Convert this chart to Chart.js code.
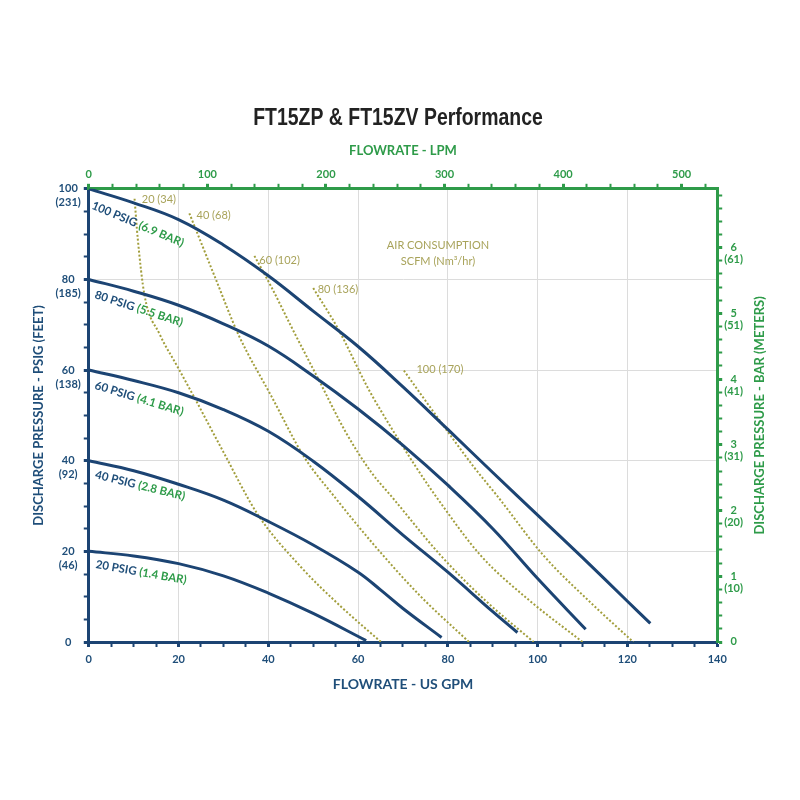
<!DOCTYPE html>
<html lang="en">

<head>
  <meta charset="UTF-8" />
  <title>FT15ZP & FT15ZV Performance</title>
  <script src="https://cdn.jsdelivr.net/npm/chart.js"></script>
  <style>
    body { margin: 0; background: #fff; }
  </style>
</head>

<body>
  <canvas id="myChart" width="800" height="800"></canvas>

  <script>
    // pump curves, [US GPM, PSIG]
    const psig100 = [[0, 100], [10, 96.9], [20, 93.2], [30, 87.6], [40, 80.8], [50, 73], [60, 65.2], [70, 56.3], [80, 46.9], [90, 37.4], [100, 28], [110, 18.6], [120, 9], [125.1, 4.1]];
    const psig80 = [[0, 80], [10, 77.4], [20, 74.3], [30, 70.2], [40, 65.3], [50, 58.7], [60, 51.4], [70, 43.4], [80, 34.6], [90, 25], [100, 14], [110.7, 2.8]];
    const psig60 = [[0, 60], [10, 57.7], [20, 55], [30, 51.3], [40, 46.5], [50, 39.9], [60, 32.1], [70, 23.6], [80, 15.4], [90, 6.7], [95.5, 2.1]];
    const psig40 = [[0, 40], [10, 37.8], [20, 34.8], [30, 31.3], [40, 26.6], [50, 21.4], [60, 15.4], [65, 11.5], [70, 7.4], [78.6, 1]];
    const psig20 = [[0, 20], [10, 19], [20, 17.3], [30, 14.6], [40, 10.8], [50, 6.3], [61.8, 0.3]];

    // air consumption lines, [US GPM, PSIG]
    const air20 = [[10.2, 97.8], [10.9, 89.1], [12.4, 76.6], [15.8, 67.9], [19.8, 60.7], [23.6, 53.8], [30, 41.9], [37.6, 28.2], [47.3, 16.5], [56.2, 7.8], [65.1, 0]];
    const air40 = [[22.4, 94.6], [28.4, 79.8], [33.3, 67.9], [40.7, 54.2], [48, 40.8], [54.7, 32.1], [63.3, 21.7], [73.6, 10.4], [84.7, 0]];
    const air60 = [[36.9, 85.2], [40.7, 78.3], [45.1, 69.6], [51.1, 58.1], [57.3, 46.2], [62.9, 37.5], [67.8, 31.7], [78.4, 19.1], [88.4, 9.1], [99.1, 0]];
    const air80 = [[50, 78.1], [55.6, 69], [62.2, 56], [65.1, 51], [72.9, 38.6], [77.8, 31.5], [87.3, 19.1], [98, 9.3], [110, 0]];
    const air100 = [[70.2, 59.9], [76.2, 51.6], [85.8, 38.6], [91.1, 32.1], [101.3, 19.1], [111.8, 8.7], [121.3, 0]];

    const psigNames = ["100 PSIG", "80 PSIG", "60 PSIG", "40 PSIG", "20 PSIG"];
    const barNames = ["(6.9 BAR)", "(5.5 BAR)", "(4.1 BAR)", "(2.8 BAR)", "(1.4 BAR)"];
    const airNames = ["20 (34)", "40 (68)", "60 (102)", "80 (136)", "100 (170)"];

    // tick labels
    const feetTicks = ["", "(46)", "(92)", "(138)", "(185)", "(231)"];
    const meterTicks = ["", "(10)", "(20)", "(31)", "(41)", "(51)", "(61)"];

    const NAVY = "#1c4473";
    const NAVY_TXT = "#1f4e79";
    const GREEN = "#2e9b49";
    const OLIVE = "#a29e3c";
    const OLIVE_TXT = "#a8a35a";
    const GPM_TO_LPM = 3.78541;
    const PSI_PER_BAR = 14.5038;

    // where the text sits, in chart units
    const psigLabelAt = [[1.3, 97.6], [1.8, 77.9], [1.8, 57.9], [1.8, 38.2], [1.8, 18.4]];
    const psigLabelTilt = [23, 18, 17, 14, 10];
    const airLabelAt = [[11.8, 97.6], [24, 94.2], [38, 84.1], [51, 77.7], [73, 60.2]];

    function toXY(arr) {
      return arr.map((p) => ({ x: p[0], y: p[1] }));
    }

    function solid(arr) {
      return {
        data: toXY(arr),
        borderColor: NAVY,
        borderWidth: 3,
        pointRadius: 0,
        tension: 0.4,
      };
    }

    function dotted(arr) {
      return {
        data: toXY(arr),
        borderColor: OLIVE,
        borderWidth: 2,
        borderDash: [2, 2],
        pointRadius: 0,
        cubicInterpolationMode: "monotone",
      };
    }

    const isStep = (v, s) => Math.abs(v / s - Math.round(v / s)) < 1e-6;

    // text on the plot, chart title, right axis title
    const notesPlugin = {
      id: "notes",
      afterDatasetsDraw(chart) {
        const c = chart.ctx;
        const xs = chart.scales.x;
        const ys = chart.scales.y;
        c.save();
        c.font = "bold 11.5px Lato";
        c.textBaseline = "top";
        c.textAlign = "left";
        for (let i = 0; i < psigNames.length; i++) {
          c.save();
          c.translate(xs.getPixelForValue(psigLabelAt[i][0]), ys.getPixelForValue(psigLabelAt[i][1]));
          c.rotate((psigLabelTilt[i] * Math.PI) / 180);
          c.fillStyle = NAVY_TXT;
          c.fillText(psigNames[i], 0, 0);
          const w = c.measureText(psigNames[i] + " ").width;
          c.fillStyle = GREEN;
          c.fillText(barNames[i], w, 0);
          c.restore();
        }

        c.font = "11px Lato";
        c.fillStyle = OLIVE_TXT;
        c.textBaseline = "middle";
        for (let i = 0; i < airNames.length; i++) {
          c.fillText(airNames[i], xs.getPixelForValue(airLabelAt[i][0]), ys.getPixelForValue(airLabelAt[i][1]));
        }
        c.textAlign = "center";
        c.fillText("AIR CONSUMPTION", xs.getPixelForValue(77.8), ys.getPixelForValue(87.6));
        c.fillText("SCFM (Nm\u00B3/hr)", xs.getPixelForValue(77.8), ys.getPixelForValue(83.9));
        c.restore();
      },
      afterDraw(chart) {
        const c = chart.ctx;
        const area = chart.chartArea;
        c.save();
        // narrow bold title
        c.translate(398, 118);
        c.scale(0.81, 1);
        c.font = "bold 24px 'Liberation Sans', Arial, sans-serif";
        c.fillStyle = "#222";
        c.textAlign = "center";
        c.textBaseline = "middle";
        c.fillText("FT15ZP & FT15ZV Performance", 0, 0);
        c.restore();

        c.save();
        c.translate(chart.scales.y2.right + 15, (area.top + area.bottom) / 2);
        c.rotate(-Math.PI / 2);
        c.font = "bold 13px Lato";
        c.fillStyle = GREEN;
        c.textAlign = "center";
        c.textBaseline = "middle";
        c.fillText("DISCHARGE PRESSURE - BAR (METERS)", 0, 0);
        c.restore();
      },
    };

    const ctx = document.getElementById("myChart");
    const mychart = new Chart(ctx, {
      type: "line",
      data: {
        datasets: [
          solid(psig100), solid(psig80), solid(psig60), solid(psig40), solid(psig20),
          dotted(air20), dotted(air40), dotted(air60), dotted(air80), dotted(air100),
        ],
      },
      plugins: [notesPlugin],
      options: {
        responsive: false,
        animation: false,
        layout: { padding: { left: 27, right: 55, top: 141, bottom: 103 } },
        plugins: {
          legend: { display: false },
          tooltip: { enabled: false },
          title: { display: false },
        },
        scales: {
          x: {
            type: "linear",
            position: "bottom",
            min: 0,
            max: 140,
            border: { color: NAVY, width: 3 },
            grid: {
              color: (c) => (isStep(c.tick.value, 20) ? "#dcdcdc" : "transparent"),
              tickColor: NAVY,
              tickLength: 5,
              tickWidth: (c) => (isStep(c.tick.value, 20) ? 3 : 2),
            },
            ticks: {
              stepSize: 5,
              autoSkip: false,
              maxRotation: 0,
              padding: 6,
              color: NAVY_TXT,
              font: { family: "Lato", size: 11, weight: "bold" },
              callback: (v) => (isStep(v, 20) ? String(v) : ""),
            },
            title: {
              display: true,
              text: "FLOWRATE - US GPM",
              color: NAVY_TXT,
              font: { family: "Lato", size: 14, weight: "bold" },
              padding: { top: 4, bottom: 4 },
            },
          },
          y: {
            type: "linear",
            position: "left",
            min: 0,
            max: 100,
            border: { color: NAVY, width: 3 },
            grid: {
              color: (c) => (isStep(c.tick.value, 20) ? "#dcdcdc" : "transparent"),
              tickColor: NAVY,
              tickLength: 5,
              tickWidth: (c) => (isStep(c.tick.value, 20) ? 3 : 2),
            },
            ticks: {
              stepSize: 5,
              autoSkip: false,
              padding: 3,
              crossAlign: "center",
              labelOffset: 7,
              color: NAVY_TXT,
              font: { family: "Lato", size: 11, weight: "bold", lineHeight: 1.25 },
              callback: (v) => (isStep(v, 20) ? [String(v), feetTicks[Math.round(v / 20)]] : ""),
            },
            title: {
              display: true,
              text: "DISCHARGE PRESSURE - PSIG (FEET)",
              color: NAVY_TXT,
              font: { family: "Lato", size: 13, weight: "bold" },
              padding: { top: 4, bottom: 6 },
            },
          },
          x2: {
            type: "linear",
            position: "top",
            min: 0,
            max: 140 * GPM_TO_LPM,
            border: { color: GREEN, width: 3 },
            grid: {
              drawOnChartArea: false,
              tickColor: GREEN,
              tickLength: 5,
              tickWidth: (c) => (isStep(c.tick.value, 100) ? 3 : 2),
            },
            ticks: {
              stepSize: 20,
              includeBounds: false,
              autoSkip: false,
              maxRotation: 0,
              padding: 3,
              color: GREEN,
              font: { family: "Lato", size: 11, weight: "bold" },
              callback: (v) => (isStep(v, 100) ? String(v) : ""),
            },
            title: {
              display: true,
              text: "FLOWRATE - LPM",
              color: GREEN,
              font: { family: "Lato", size: 13, weight: "bold" },
              padding: { top: 2, bottom: 6 },
            },
          },
          y2: {
            type: "linear",
            position: "right",
            min: 0,
            max: 100 / PSI_PER_BAR,
            border: { color: GREEN, width: 3 },
            grid: {
              drawOnChartArea: false,
              tickColor: GREEN,
              tickLength: 5,
              tickWidth: (c) => (isStep(c.tick.value, 1) ? 3 : 2),
            },
            ticks: {
              stepSize: 0.2,
              includeBounds: false,
              autoSkip: false,
              padding: 2,
              crossAlign: "center",
              labelOffset: 6,
              color: GREEN,
              font: { family: "Lato", size: 11, weight: "bold", lineHeight: 1.1 },
              callback: (v) => (isStep(v, 1) ? [String(Math.round(v)), meterTicks[Math.round(v)]] : ""),
            },
          },
        },
      },
    });
  </script>
</body>

</html>
